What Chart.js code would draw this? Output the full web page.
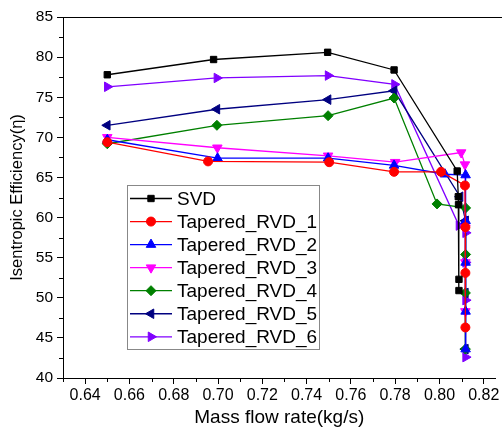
<!DOCTYPE html>
<html>
<head>
<meta charset="utf-8">
<script src="https://cdn.jsdelivr.net/npm/chart.js@4/dist/chart.umd.min.js"></script>
<style>
  html, body { margin: 0; padding: 0; background: #fff; }
  canvas { display: block; }
</style>
</head>
<body>
<canvas id="eff" width="502" height="430"></canvas>
<script>
// values
const seriesNames = ['SVD', 'Tapered_RVD_1', 'Tapered_RVD_2', 'Tapered_RVD_3', 'Tapered_RVD_4', 'Tapered_RVD_5', 'Tapered_RVD_6'];

const svdX  = [0.65, 0.698, 0.7495, 0.7795, 0.808, 0.8085, 0.8086, 0.8088, 0.8088];
const svdY  = [77.8, 79.7, 80.6, 78.4, 65.8, 62.6, 61.6, 52.3, 50.9];
const rvd1X = [0.65, 0.6955, 0.7502, 0.7795, 0.8007, 0.8115, 0.8117, 0.8117, 0.8117];
const rvd1Y = [69.4, 67.0, 66.9, 65.7, 65.7, 64.0, 58.8, 53.1, 46.3];
const rvd2X = [0.65, 0.6998, 0.7497, 0.7795, 0.8025, 0.8118, 0.8118, 0.8118, 0.8118, 0.8118];
const rvd2Y = [69.7, 67.4, 67.4, 66.5, 65.4, 65.3, 59.6, 54.4, 48.3, 43.6];
const rvd3X = [0.65, 0.6997, 0.7497, 0.78, 0.8098, 0.8115, 0.8117, 0.8117, 0.8117];
const rvd3Y = [70.0, 68.7, 67.7, 66.9, 68.1, 66.6, 58.7, 54.4, 48.3];
const rvd4X = [0.65, 0.6995, 0.7497, 0.7795, 0.7989, 0.8118, 0.8118, 0.8117, 0.8117];
const rvd4Y = [69.2, 71.5, 72.7, 74.9, 61.7, 61.2, 55.4, 50.6, 43.6];
const rvd5X = [0.65, 0.6995, 0.7497, 0.7795, 0.8093, 0.8118, 0.8117, 0.8117];
const rvd5Y = [71.5, 73.5, 74.7, 75.8, 62.6, 59.6, 50.6, 43.6];
const rvd6X = [0.65, 0.6995, 0.7497, 0.7797, 0.8088, 0.8118, 0.8118, 0.8118, 0.8118];
const rvd6Y = [76.3, 77.4, 77.7, 76.6, 59.0, 58.1, 54.4, 49.7, 42.6];

const xTicks = [0.64, 0.66, 0.68, 0.70, 0.72, 0.74, 0.76, 0.78, 0.80, 0.82];
const yTicks = [40, 45, 50, 55, 60, 65, 70, 75, 80, 85];
const xMinor = [0.63, 0.65, 0.67, 0.69, 0.71, 0.73, 0.75, 0.77, 0.79, 0.81];
const yMinor = [42.5, 47.5, 52.5, 57.5, 62.5, 67.5, 72.5, 77.5, 82.5];

const colors = ['#000000', '#ff0000', '#0000ff', '#ff00ff', '#008000', '#000080', '#8000ff'];
const styles = [
  { pointStyle: 'rect', r: 4.5, rot: 0 },
  { pointStyle: 'circle', r: 4.5, rot: 0 },
  { pointStyle: 'triangle', r: 5.5, rot: 0 },
  { pointStyle: 'triangle', r: 5.5, rot: 180 },
  { pointStyle: 'rectRot', r: 5, rot: 0 },
  { pointStyle: 'triangle', r: 5.5, rot: -90 },
  { pointStyle: 'triangle', r: 5.5, rot: 90 }
];

const xs = [svdX, rvd1X, rvd2X, rvd3X, rvd4X, rvd5X, rvd6X];
const ys = [svdY, rvd1Y, rvd2Y, rvd3Y, rvd4Y, rvd5Y, rvd6Y];

const font = 'Liberation Sans, Arial, sans-serif';

let datasets = seriesNames.map(function (name, i) {
  return {
    label: name,
    data: xs[i].map(function (x, j) { return { x: x, y: ys[i][j] }; }),
    showLine: true,
    borderColor: colors[i],
    backgroundColor: colors[i],
    borderWidth: 1.3,
    pointStyle: styles[i].pointStyle,
    pointRadius: styles[i].r,
    pointRotation: styles[i].rot,
    pointBorderWidth: 1,
    pointHoverRadius: styles[i].r
  };
});

// minor ticks, top frame line and the boxed legend
const extras = {
  id: 'extras',
  afterDraw: function (chart) {
    const ctx = chart.ctx;
    const a = chart.chartArea;
    const sx = chart.scales.x, sy = chart.scales.y;
    ctx.save();
    ctx.strokeStyle = '#000';
    ctx.lineWidth = 1;
    ctx.beginPath();
    ctx.moveTo(a.left, a.top + 0.5);
    ctx.lineTo(chart.width, a.top + 0.5);
    xMinor.forEach(function (v) {
      let px = Math.round(sx.getPixelForValue(v)) + 0.5;
      ctx.moveTo(px, a.bottom);
      ctx.lineTo(px, a.bottom + 4);
    });
    yMinor.forEach(function (v) {
      let py = Math.round(sy.getPixelForValue(v)) + 0.5;
      ctx.moveTo(a.left, py);
      ctx.lineTo(a.left - 4, py);
    });
    ctx.stroke();

    // legend
    const bx = 127.5, by = 185.5, bw = 192, bh = 164;
    ctx.fillStyle = '#fff';
    ctx.fillRect(bx, by, bw, bh);
    ctx.strokeStyle = '#888';
    ctx.strokeRect(bx, by, bw, bh);
    ctx.font = '19px ' + font;
    ctx.textBaseline = 'middle';
    seriesNames.forEach(function (name, i) {
      let yy = 198.5 + i * 23.05;
      ctx.strokeStyle = colors[i];
      ctx.fillStyle = colors[i];
      ctx.lineWidth = 1.3;
      ctx.beginPath();
      ctx.moveTo(130, yy);
      ctx.lineTo(172, yy);
      ctx.stroke();
      ctx.lineWidth = 1;
      Chart.helpers.drawPoint(ctx, { pointStyle: styles[i].pointStyle, radius: styles[i].r, rotation: styles[i].rot, borderWidth: 1 }, 151, yy);
      ctx.fillStyle = '#000';
      ctx.fillText(name, 177, yy + 1);
    });
    ctx.restore();
  }
};

new Chart(document.getElementById('eff'), {
  type: 'scatter',
  data: { datasets: datasets },
  options: {
    responsive: false,
    animation: false,
    devicePixelRatio: 1,
    layout: { padding: { top: 17, right: 0, bottom: 0, left: 0 } },
    plugins: { legend: { display: false }, tooltip: { enabled: false } },
    scales: {
      x: {
        type: 'linear',
        min: 0.63,
        max: 0.8253,
        afterBuildTicks: function (s) { s.ticks = xTicks.map(function (v) { return { value: v }; }); },
        afterFit: function (s) { s.height = 52; s.paddingLeft = 0; s.paddingRight = 0; },
        border: { color: '#000', width: 1 },
        grid: { display: true, drawOnChartArea: false, drawTicks: true, tickLength: 6, tickColor: '#000' },
        ticks: {
          color: '#000',
          padding: 2,
          maxRotation: 0,
          font: { family: font, size: 16 },
          callback: function (v) { return Number(v).toFixed(2); }
        },
        title: {
          display: true,
          text: 'Mass flow rate(kg/s)',
          color: '#000',
          font: { family: font, size: 19 },
          padding: { top: 0, bottom: 1 }
        }
      },
      y: {
        type: 'linear',
        min: 40,
        max: 85,
        afterBuildTicks: function (s) { s.ticks = yTicks.map(function (v) { return { value: v }; }); },
        afterFit: function (s) { s.width = 63; },
        border: { color: '#000', width: 1 },
        grid: { display: true, drawOnChartArea: false, drawTicks: true, tickLength: 6, tickColor: '#000' },
        ticks: { color: '#000', padding: 4, font: { family: font, size: 15.5 } },
        title: {
          display: true,
          text: 'Isentropic Efficiency(η)',
          color: '#000',
          font: { family: font, size: 16.5 },
          padding: { top: 8, bottom: 0 }
        }
      }
    }
  },
  plugins: [extras]
});
</script>
</body>
</html>
